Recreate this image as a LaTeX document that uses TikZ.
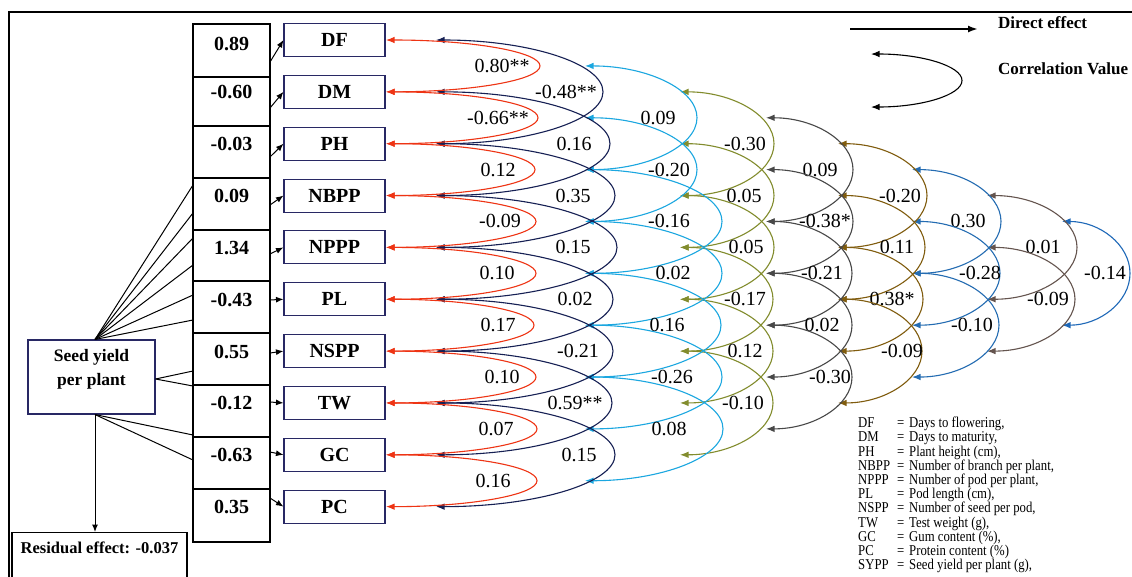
\documentclass[tikz,border=0pt]{standalone}
\usepackage{fontspec}
\setmainfont{Liberation Serif}
\newfontfamily\legfont[FakeStretch=0.85]{Liberation Serif}
\usetikzlibrary{arrows.meta}
\definecolor{corcol1}{RGB}{238,52,20}
\definecolor{corcol2}{RGB}{22,32,84}
\definecolor{corcol3}{RGB}{27,167,224}
\definecolor{corcol4}{RGB}{130,140,45}
\definecolor{corcol5}{RGB}{72,72,72}
\definecolor{corcol6}{RGB}{128,92,14}
\definecolor{corcol7}{RGB}{36,108,178}
\definecolor{corcol8}{RGB}{100,84,78}
\definecolor{corcol9}{RGB}{30,104,184}
\definecolor{navyb}{RGB}{40,40,100}
% #1 level k, #2 first row i, #3 label, #4 label x, #5 max x of arc
\newcommand\corr[5]{%
  \pgfmathsetmacro\cyc{40+51.85*(#2+#1/2)}%
  \pgfmathsetmacro\cbb{(#1==1)?25.925:51.85}%
  \pgfmathsetmacro\cxa{{0,386,436,585,680,766,838,912,987,1062}[#1]}%
  \pgfmathsetmacro\cyt{\cyc-\cbb}%
  \pgfmathsetmacro\cyb{\cyc+\cbb}%
  \pgfmathsetmacro\cka{\cxa+0.5523*(#5-\cxa)}%
  \pgfmathsetmacro\ckb{0.5523*\cbb}%
  \coordinate (t#1-#2) at (\cxa,\cyt);
  \coordinate (m#1-#2) at (#5,\cyc);
  \coordinate (b#1-#2) at (\cxa,\cyb);
  \draw[corrline,corcol#1] (t#1-#2) .. controls (\cka,\cyt) and (#5,\cyc-\ckb) .. (m#1-#2) .. controls (#5,\cyc+\ckb) and (\cka,\cyb) .. (b#1-#2);
  \node[clab] at (#4,\cyc) {#3};
}
\begin{document}
\begin{tikzpicture}[x=1pt,y=-1pt,
  varbox/.style={draw=navyb, line width=1.1pt, minimum width=101pt, minimum height=33pt, inner sep=0pt, font=\fontsize{20}{22}\selectfont\bfseries},
  valbox/.style={draw=black, line width=1.1pt, minimum width=77pt, inner sep=0pt, font=\fontsize{20}{22}\selectfont\bfseries},
  clab/.style={font=\fontsize{20}{22}\selectfont, inner sep=0pt},
  corrline/.style={line width=1.1pt, {Latex[length=8.5pt,width=6.5pt]}-{Latex[length=8.5pt,width=6.5pt]}},
  fan/.style={line width=1pt, black},
  dirarrow/.style={line width=1pt, -{Latex[length=7.5pt,width=6pt]}},
  boldtext/.style={font=\fontsize{17}{24}\selectfont\bfseries, inner sep=0pt},
]
\useasboundingbox (0,0) rectangle (1132,576);
\clip (0,0) rectangle (1132,576);
\fill[white] (0,0) rectangle (1132,576);
% outer frame
\draw[line width=1.1pt] (9,12) rectangle (1150,600);

% variable boxes
\foreach \n [count=\i from 0] in {DF,DM,PH,NBPP,NPPP,PL,NSPP,TW,GC,PC}
  \node[varbox] (\n) at (334.5,40+51.85*\i) {\n};

% value boxes (direct effects)
\foreach \v [count=\i from 0] in {0.89,-0.60,-0.03,0.09,1.34,-0.43,0.55,-0.12,-0.63,0.35} {
  \pgfmathsetmacro\vbt{{24,77,126,178,230,281,333,385,437,489}[\i]}
  \pgfmathsetmacro\vbb{{77,126,178,230,281,333,385,437,489,542}[\i]}
  \pgfmathsetmacro\vry{(\i==0)?43:40+51.85*\i}
  \pgfmathsetmacro\vth{\vry+7-\vbt}
  \pgfmathsetmacro\vtd{\vbb-\vry-7}
  \node[valbox, anchor=base, text height=\vth pt, text depth=\vtd pt] (v\i) at (231.5,\vry+7) {\v};
}

% direct arrows value box -> variable
\foreach \n/\ys [count=\i from 0] in {DF/62,DM/108,PH/157,NBPP/205,NPPP/254,PL/300,NSPP/353,TW/402,GC/452,PC/498} {
  \coordinate (d\i) at (270,\ys);
  \draw[dirarrow] (d\i) -- (\n.west);
}

% seed yield box
\node[draw=navyb, line width=1.1pt, minimum width=127pt, minimum height=74pt, inner sep=0pt,
      font=\fontsize{17.5}{24}\selectfont\bfseries] (SY) at (91.5,377)
  {\raisebox{8pt}[\height][\depth]{\begin{tabular}{@{}c@{}}Seed yield\\per plant\end{tabular}}};
\coordinate (syt) at ([xshift=3.5pt]SY.north);
\coordinate (syr) at ([yshift=-2pt]SY.east);
\coordinate (syb) at ([xshift=3.5pt]SY.south);
\foreach \yy [count=\i] in {185,213,238,265,295,320} {
  \coordinate (ft\i) at (193,\yy);
  \draw[fan] (syt) -- (ft\i);
}
\foreach \yy [count=\i] in {371,386} {
  \coordinate (fr\i) at (193,\yy);
  \draw[fan] (syr) -- (fr\i);
}
\foreach \yy [count=\i] in {435,460} {
  \coordinate (fb\i) at (193,\yy);
  \draw[fan] (syb) -- (fb\i);
}

% residual
\node[draw, line width=1.1pt, anchor=north, minimum width=175pt, inner sep=0pt,
      text height=21pt, text depth=40pt, font=\fontsize{16.5}{20}\selectfont\bfseries]
  (RE) at (99.5,532) {Residual effect: -0.037};
\draw[dirarrow] (syb) -- (syb |- RE.north);

% correlation arcs
\corr{9}{0}{-0.14}{1105}{1130}
\corr{8}{0}{0.01}{1043}{1077}
\corr{8}{1}{-0.09}{1048}{1075}
\corr{7}{0}{0.30}{968}{1001}
\corr{7}{1}{-0.28}{980}{1000}
\corr{7}{2}{-0.10}{972}{999}
\corr{6}{0}{-0.20}{900}{927}
\corr{6}{1}{0.11}{897}{925}
\corr{6}{2}{0.38*}{892}{923}
\corr{6}{3}{-0.09}{902}{922}
\corr{5}{0}{0.09}{820}{853}
\corr{5}{1}{-0.38*}{825}{853}
\corr{5}{2}{-0.21}{822}{852}
\corr{5}{3}{0.02}{822}{852}
\corr{5}{4}{-0.30}{830}{852}
\corr{4}{0}{-0.30}{745}{774}
\corr{4}{1}{0.05}{744}{774}
\corr{4}{2}{0.05}{746}{774}
\corr{4}{3}{-0.17}{745}{773}
\corr{4}{4}{0.12}{745}{773}
\corr{4}{5}{-0.10}{743}{773}
\corr{3}{0}{0.09}{658}{697}
\corr{3}{1}{-0.20}{669}{697}
\corr{3}{2}{-0.16}{669}{722}
\corr{3}{3}{0.02}{673}{722}
\corr{3}{4}{0.16}{667}{721}
\corr{3}{5}{-0.26}{672}{722}
\corr{3}{6}{0.08}{669}{723}
\corr{2}{0}{-0.48**}{566}{603}
\corr{2}{1}{0.16}{574}{610}
\corr{2}{2}{0.35}{573}{615}
\corr{2}{3}{0.15}{573}{617}
\corr{2}{4}{0.02}{575}{613}
\corr{2}{5}{-0.21}{578}{613}
\corr{2}{6}{0.59**}{575}{612}
\corr{2}{7}{0.15}{579}{615}
\corr{1}{0}{0.80**}{502}{540}
\corr{1}{1}{-0.66**}{498}{538}
\corr{1}{2}{0.12}{498}{535}
\corr{1}{3}{-0.09}{500}{536}
\corr{1}{4}{0.10}{497}{536}
\corr{1}{5}{0.17}{498}{534}
\corr{1}{6}{0.10}{502}{536}
\corr{1}{7}{0.07}{496}{537}
\corr{1}{8}{0.16}{493}{537}

% legend top right
\coordinate (le1) at (850,29);
\coordinate (le2) at (978,29);
\draw[line width=2.2pt, -{Latex[length=10pt,width=7pt]}] (le1) -- (le2);
\node[boldtext, anchor=west] (DE) at (998,23) {Direct effect};
\coordinate (lc1) at (871,54);
\coordinate (lcm) at (962,80.5);
\coordinate (lc2) at (871,107);
\draw[corrline, black] (lc1) .. controls (921.3,54) and (962,65.9) .. (lcm) .. controls (962,95.1) and (921.3,107) .. (lc2);
\node[boldtext, anchor=west] (CV) at (998,69) {Correlation Value};

% abbreviation legend
\node[anchor=north west, inner sep=0pt, align=left, font=\legfont\fontsize{15}{14.2}\selectfont] (LG) at (858,417) {%
\makebox[34pt][l]{DF}\makebox[17pt][c]{=}Days to flowering,\\
\makebox[34pt][l]{DM}\makebox[17pt][c]{=}Days to maturity,\\
\makebox[34pt][l]{PH}\makebox[17pt][c]{=}Plant height (cm),\\
\makebox[34pt][l]{NBPP}\makebox[17pt][c]{=}Number of branch per plant,\\
\makebox[34pt][l]{NPPP}\makebox[17pt][c]{=}Number of pod per plant,\\
\makebox[34pt][l]{PL}\makebox[17pt][c]{=}Pod length (cm),\\
\makebox[34pt][l]{NSPP}\makebox[17pt][c]{=}Number of seed per pod,\\
\makebox[34pt][l]{TW}\makebox[17pt][c]{=}Test weight (g),\\
\makebox[34pt][l]{GC}\makebox[17pt][c]{=}Gum content (\%),\\
\makebox[34pt][l]{PC}\makebox[17pt][c]{=}Protein content (\%)\\
\makebox[34pt][l]{SYPP}\makebox[17pt][c]{=}Seed yield per plant (g),};
\end{tikzpicture}
\end{document}
